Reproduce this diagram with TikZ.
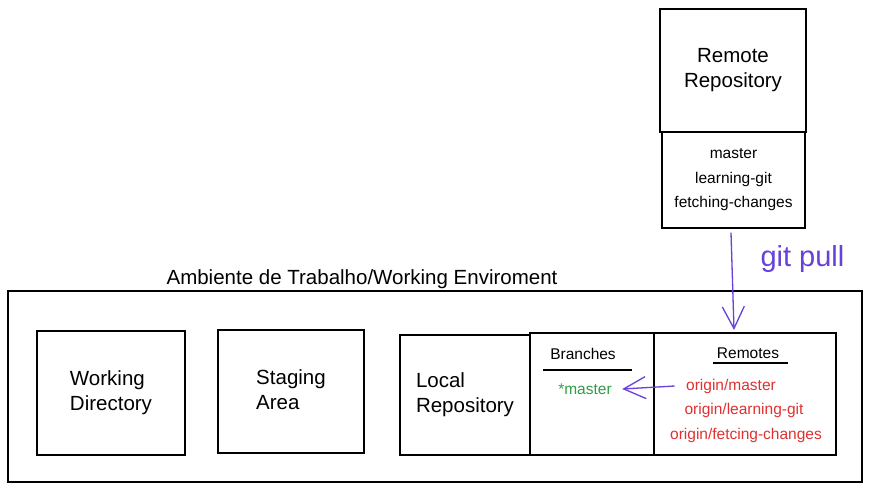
\documentclass[tikz,border=0pt]{standalone}
\usepackage{fontspec}
\setmainfont{Liberation Sans}
\usetikzlibrary{arrows.meta}
\definecolor{pullc}{HTML}{6741D9}
\definecolor{redc}{HTML}{E03131}
\definecolor{greenc}{HTML}{2F9E44}
\tikzset{
  box/.style={draw=black, line width=1.3pt, inner sep=0pt},
  big/.style={font=\fontsize{20.5}{25}\selectfont},
  small/.style={font=\fontsize{15.5}{24.5}\selectfont},
  arr/.style={draw=pullc, line width=1.3pt, -{Straight Barb[length=22pt,width=22pt,line width=1.3pt]}},
}
\begin{document}
\begin{tikzpicture}[x=1pt,y=-1pt]
\useasboundingbox[fill=white] (0,0) rectangle (872,491);
% outer working environment
\node[box, minimum width=854pt, minimum height=191pt] (env) at (435,386.5) {};
\node[big, anchor=south] (envt) at (362,292) {Ambiente de Trabalho/Working Enviroment};
% inner boxes
\node[box, minimum width=148pt, minimum height=124pt, big, align=left] (wd) at (111,393) {Working\\Directory};
\node[box, minimum width=146pt, minimum height=123pt, big, align=left] (sa) at (291,391.5) {Staging\\Area\phantom{g}};
\node[box, minimum width=130pt, minimum height=120pt, big, align=left] (lr) at (465,395) {Local\\Repository};
\node[box, minimum width=124pt, minimum height=122pt] (br) at (592,394) {};
\node[box, minimum width=182pt, minimum height=122pt] (rm) at (745,394) {};
% branches
\node[small] (brt) at (583,354) {Branches};
\draw[line width=1.2pt] (543,370) -- (632,370);
\node[small, text=greenc] (mst) at (585,389) {*master};
% remotes
\node[small] (rmt) at (748,353) {Remotes};
\draw[line width=1.2pt] (713,363) -- (788,363);
\node[small, text=redc] (om) at (731,386) {origin/master};
\node[small, text=redc] (ol) at (744,410) {origin/learning-git};
\node[small, text=redc] (of) at (746,435) {origin/fetcing-changes};
% remote repository
\node[box, minimum width=146pt, minimum height=123pt, big, align=center] (rr) at (733,70.5) {Remote\\Repository};
\node[box, minimum width=143pt, minimum height=96pt, small, align=center] (lst) at (733.5,180) {master\\learning-git\\fetching-changes};
% arrows
\coordinate (pe) at (734,330);
\draw[arr] ([xshift=-2.5pt,yshift=-4pt]lst.south) -- (pe);
\node[font=\fontsize{29}{32}\selectfont, text=pullc, anchor=west] (gp) at (757,259) {git pull};
\draw[arr] ([xshift=-8pt]om.west) -- ([xshift=7pt]mst.east);
\end{tikzpicture}
\end{document}
